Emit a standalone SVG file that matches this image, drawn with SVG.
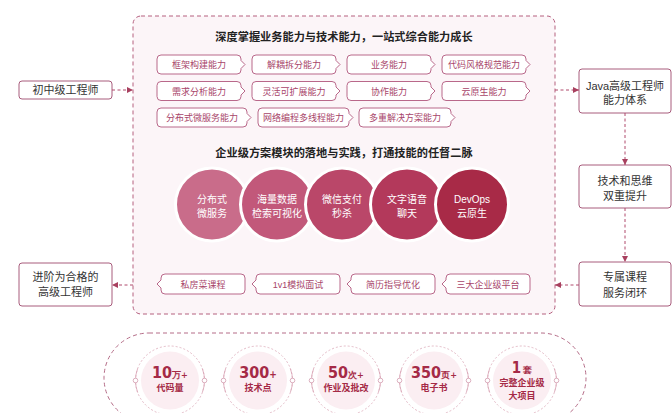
<svg xmlns="http://www.w3.org/2000/svg" width="672" height="413" viewBox="0 0 672 413">
<defs>
<style>
.f{font-family:"Liberation Sans","Noto Sans CJK SC",sans-serif}
.title{font-size:11.2px;font-weight:bold;fill:#222;text-anchor:middle}
.tag{fill:#fff;stroke:#b9688a;stroke-width:1}
.tagt{font-size:9px;fill:#a8456a;text-anchor:middle}
.box{fill:#fff;stroke:#a85c7c;stroke-width:1}
.boxt{font-size:11px;fill:#333;text-anchor:middle}
.ct{font-size:10px;fill:#fff;text-anchor:middle}
.conn{fill:none;stroke:#b04a6c;stroke-width:1;stroke-dasharray:3,2.5}
.sfill{fill:#fbeef2}
.sdash{fill:none;stroke:#dcaab9;stroke-width:0.8;stroke-dasharray:2,2}
.sarc{fill:none;stroke:#d8a2b4;stroke-width:0.8}
.knob{fill:#fff;stroke:#d39cae;stroke-width:0.8}
.num{font-family:"Liberation Sans Narrow","DejaVu Sans Condensed","Liberation Sans",sans-serif;font-weight:bold;fill:#a52a46;text-anchor:middle}
.st{font-size:9px;font-weight:bold;fill:#a52a46;text-anchor:middle}
</style>
<path id="tr" d="M4,0 H80 Q84,0 84,4 V5.5 L88,9.5 L84,13.5 V15 Q84,19 80,19 H4 Q0,19 0,15 V4 Q0,0 4,0 Z"/>
<path id="tl" d="M8,0 H84 Q88,0 88,4 V16 Q88,20 84,20 H8 Q4,20 4,16 V14 L0,10 L4,6 V4 Q4,0 8,0 Z"/>
<marker id="ah" viewBox="0 0 6 6" refX="6" refY="3" markerWidth="6" markerHeight="6" markerUnits="userSpaceOnUse" orient="auto">
<path d="M0,0 L6,3 L0,6 Z" fill="#a8405f"/>
</marker>
<g id="statring">
<circle class="sdash" r="34.5"/>
<path class="sarc" d="M-32.4,-11.8 A34.5,34.5 0 0 0 -32.4,11.8 M32.4,-11.8 A34.5,34.5 0 0 1 32.4,11.8"/>
<circle class="knob" cx="-34.5" cy="0" r="2.3"/>
<circle class="knob" cx="34.5" cy="0" r="2.3"/>
</g>
</defs>
<rect width="672" height="413" fill="#fff"/>

<g id="main-panel">
<rect x="133" y="16" width="422" height="298" rx="8" fill="#fcf5f8" stroke="#b5607f" stroke-width="1" stroke-dasharray="4,3"/>
<text class="f title" x="344" y="41">深度掌握业务能力与技术能力，一站式综合能力成长</text>
<text class="f title" x="344" y="157">企业级方案模块的落地与实践，打通技能的任督二脉</text>
</g>

<g id="skill-tags">
<g id="tag-1"><use href="#tr" class="tag" x="157" y="55"/><text class="f tagt" x="199" y="68">框架构建能力</text></g>
<g id="tag-2"><use href="#tr" class="tag" x="252" y="55"/><text class="f tagt" x="294" y="68">解耦拆分能力</text></g>
<g id="tag-3"><use href="#tr" class="tag" x="347" y="55"/><text class="f tagt" x="389" y="68">业务能力</text></g>
<g id="tag-4"><use href="#tr" class="tag" x="442" y="55"/><text class="f tagt" x="484" y="68">代码风格规范能力</text></g>
<g id="tag-5"><use href="#tr" class="tag" x="157" y="81.5"/><text class="f tagt" x="199" y="94.5">需求分析能力</text></g>
<g id="tag-6"><use href="#tr" class="tag" x="252" y="81.5"/><text class="f tagt" x="294" y="94.5">灵活可扩展能力</text></g>
<g id="tag-7"><use href="#tr" class="tag" x="347" y="81.5"/><text class="f tagt" x="389" y="94.5">协作能力</text></g>
<g id="tag-8"><use href="#tr" class="tag" x="442" y="81.5"/><text class="f tagt" x="484" y="94.5">云原生能力</text></g>
<g id="tag-9"><path class="tag" transform="translate(157,108)" d="M4,0 H86 Q90,0 90,4 V5.5 L94,9.5 L90,13.5 V15 Q90,19 86,19 H4 Q0,19 0,15 V4 Q0,0 4,0 Z"/><text class="f tagt" x="202" y="121">分布式微服务能力</text></g>
<g id="tag-10"><path class="tag" transform="translate(258,108)" d="M4,0 H87 Q91,0 91,4 V5.5 L95,9.5 L91,13.5 V15 Q91,19 87,19 H4 Q0,19 0,15 V4 Q0,0 4,0 Z"/><text class="f tagt" x="303.5" y="121">网络编程多线程能力</text></g>
<g id="tag-11"><path class="tag" transform="translate(359,108)" d="M4,0 H88 Q92,0 92,4 V5.5 L96,9.5 L92,13.5 V15 Q92,19 88,19 H4 Q0,19 0,15 V4 Q0,0 4,0 Z"/><text class="f tagt" x="405" y="121">多重解决方案能力</text></g>
</g>

<g id="modules">
<g id="mod-1"><circle cx="212" cy="204.5" r="36.5" fill="#c96c8a" stroke="#fff" stroke-width="3"/><text class="f ct" x="212" y="202.5">分布式</text><text class="f ct" x="212" y="216.5">微服务</text></g>
<g id="mod-2"><circle cx="277" cy="204.5" r="36.5" fill="#c2587a" stroke="#fff" stroke-width="3"/><text class="f ct" x="277" y="202.5">海量数据</text><text class="f ct" x="277" y="216.5">检索可视化</text></g>
<g id="mod-3"><circle cx="342" cy="204.5" r="36.5" fill="#ba4769" stroke="#fff" stroke-width="3"/><text class="f ct" x="342" y="202.5">微信支付</text><text class="f ct" x="342" y="216.5">秒杀</text></g>
<g id="mod-4"><circle cx="407" cy="204.5" r="36.5" fill="#b3395b" stroke="#fff" stroke-width="3"/><text class="f ct" x="407" y="202.5">文字语音</text><text class="f ct" x="407" y="216.5">聊天</text></g>
<g id="mod-5"><circle cx="472" cy="204.5" r="36.5" fill="#a82a47" stroke="#fff" stroke-width="3"/><text class="f ct" x="472" y="202.5">DevOps</text><text class="f ct" x="472" y="216.5">云原生</text></g>
</g>

<g id="service-tags">
<g id="svc-1"><use href="#tl" class="tag" x="157" y="274"/><text class="f tagt" x="203" y="287.5">私房菜课程</text></g>
<g id="svc-2"><use href="#tl" class="tag" x="252" y="274"/><text class="f tagt" x="298" y="287.5">1v1模拟面试</text></g>
<g id="svc-3"><use href="#tl" class="tag" x="347" y="274"/><text class="f tagt" x="393" y="287.5">简历指导优化</text></g>
<g id="svc-4"><use href="#tl" class="tag" x="442" y="274"/><text class="f tagt" x="488" y="287.5">三大企业级平台</text></g>
</g>

<g id="node-junior"><rect class="box" x="19" y="81" width="93" height="18" rx="3"/><text class="f boxt" x="65.5" y="94">初中级工程师</text></g>
<g id="node-senior"><rect class="box" x="19" y="263" width="93" height="43" rx="3"/><text class="f boxt" x="65.5" y="281">进阶为合格的</text><text class="f boxt" x="65.5" y="296">高级工程师</text></g>
<g id="node-java"><rect class="box" x="579" y="69" width="92" height="44" rx="3"/><text class="f boxt" x="625" y="90">Java高级工程师</text><text class="f boxt" x="625" y="104">能力体系</text></g>
<g id="node-tech"><rect class="box" x="579" y="165" width="92" height="43" rx="3"/><text class="f boxt" x="625" y="185">技术和思维</text><text class="f boxt" x="625" y="200">双重提升</text></g>
<g id="node-service"><rect class="box" x="579" y="262" width="92" height="44" rx="3"/><text class="f boxt" x="625" y="281">专属课程</text><text class="f boxt" x="625" y="297">服务闭环</text></g>

<g id="connectors">
<path class="conn" d="M112,90 H133" marker-end="url(#ah)"/>
<path class="conn" d="M555,90 H579" marker-end="url(#ah)"/>
<path class="conn" d="M625,113 V165" marker-end="url(#ah)"/>
<path class="conn" d="M625,208 V262" marker-end="url(#ah)"/>
<path class="conn" d="M579,285 H555" marker-end="url(#ah)"/>
<path class="conn" d="M133,285 H112" marker-end="url(#ah)"/>
</g>

<g id="stats">
<rect x="104" y="333" width="482" height="90" rx="45" fill="none" stroke="#b56d88" stroke-width="1" stroke-dasharray="4,3"/>
<g id="stat-1" transform="translate(170,380.5)"><circle class="sfill" r="29"/><use href="#statring"/>
<text class="num" y="-3" font-size="16">10<tspan font-size="9">万+</tspan></text><text class="f st" y="10">代码量</text></g>
<g id="stat-2" transform="translate(258,380.5)"><circle class="sfill" r="29"/><use href="#statring"/>
<text class="num" y="-3" font-size="16">300<tspan font-size="10">+</tspan></text><text class="f st" y="10">技术点</text></g>
<g id="stat-3" transform="translate(346,380.5)"><circle class="sfill" r="29"/><use href="#statring"/>
<text class="num" y="-3" font-size="16">50<tspan font-size="9">次+</tspan></text><text class="f st" y="10">作业及批改</text></g>
<g id="stat-4" transform="translate(434,380.5)"><circle class="sfill" r="29"/><use href="#statring"/>
<text class="num" y="-3" font-size="16">350<tspan font-size="9">页+</tspan></text><text class="f st" y="10">电子书</text></g>
<g id="stat-5" transform="translate(522,380.5)"><circle class="sfill" r="29"/><use href="#statring"/>
<text class="num" y="-7.5" font-size="15">1<tspan font-size="8.5" dx="2">套</tspan></text><text class="f st" y="5">完整企业级</text><text class="f st" y="18">大项目</text></g>
</g>
</svg>
